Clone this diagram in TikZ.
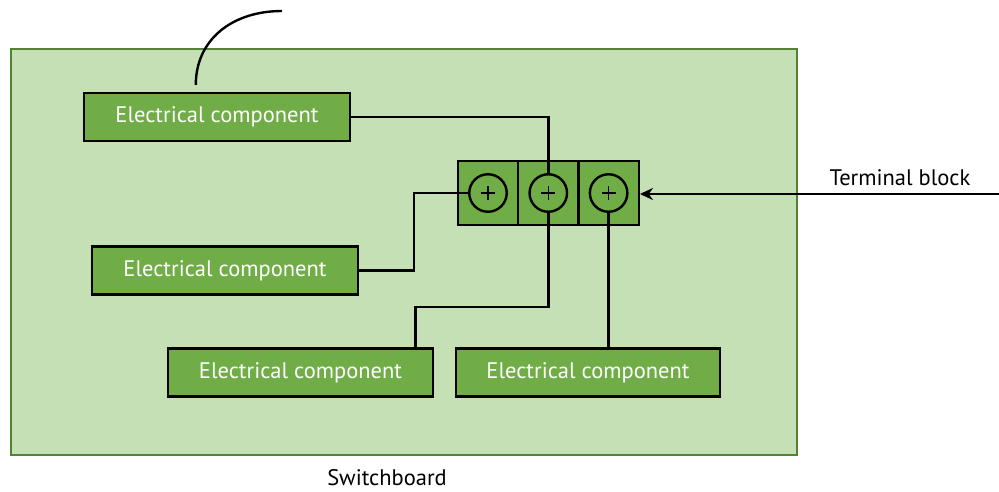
\documentclass[tikz,border=0pt]{standalone}
\usepackage{fontspec}
\setmainfont{PT Sans}
\usetikzlibrary{arrows.meta,calc}
\definecolor{boardfill}{HTML}{C5E0B4}
\definecolor{boardline}{HTML}{548235}
\definecolor{compfill}{HTML}{70AD47}
\tikzset{
  comp/.style={draw=black,line width=2.4pt,fill=compfill,text=white,minimum height=48pt,inner sep=0pt,font=\fontsize{22.5pt}{26pt}\selectfont},
  cell/.style={draw=black,line width=2.4pt,fill=compfill,minimum width=60.3pt,minimum height=64pt,inner sep=0pt},
  term/.style={circle,draw=black,line width=2.4pt,minimum size=37.5pt,inner sep=0pt},
  plusline/.style={draw=black,line width=1.6pt},
  wire/.style={draw=black,line width=2.4pt},
  lbl/.style={font=\fontsize{22.5pt}{26pt}\selectfont,text=black,inner sep=0pt}
}
\begin{document}
\begin{tikzpicture}[x=1pt,y=-1pt]
\useasboundingbox (0,0) rectangle (999,491);
\node[draw=boardline,line width=2.4pt,fill=boardfill,minimum width=786pt,minimum height=406pt,inner sep=0pt] (board) at (404,252) {};
\node[comp,minimum width=266pt] (c1) at (217,117) {Electrical component};
\node[comp,minimum width=266pt] (c2) at (225,270.5) {Electrical component};
\node[comp,minimum width=265pt] (c3) at (300.5,372.5) {Electrical component};
\node[comp,minimum width=264pt] (c4) at (588,372.5) {Electrical component};
\node[cell] (k1) at (488,193) {};
\node[cell] (k2) at (548.3,193) {};
\node[cell] (k3) at (608.6,193) {};
\node[term] (t1) at (488,193) {};
\node[term] (t2) at (548.3,193) {};
\node[term] (t3) at (608.6,193) {};
\foreach \t in {t1,t2,t3}{
  \draw[plusline] ($(\t.center)+(-7,0)$) -- ($(\t.center)+(7,0)$);
  \draw[plusline] ($(\t.center)+(0,-7)$) -- ($(\t.center)+(0,7)$);
}
\coordinate (curveend) at (282,11);
\coordinate (arrowstart) at (999,194);
% wires
\draw[wire] (c1.east) -| (t2.north);
\draw[wire] (c2.east) -- ++(55,0) |- (t1.west);
\draw[wire] (t2.south) -- ($(t2.south)+(0,94)$) -| ($(c3.north)+(115,0)$);
\draw[wire] (t3.south) -- (t3.south |- c4.north);
\draw[line width=2.4pt] ($(c1.north west)+(113,-7)$) .. controls ++(0,-45) and ++(-50,0) .. (curveend);
\draw[line width=2.4pt,-{Stealth[length=13pt,width=12pt]}] (arrowstart) -- (k3.east |- arrowstart);
\node[lbl] (tlabel) at (900,178) {Terminal block};
\node[lbl] (slabel) at (387,478) {Switchboard};
\end{tikzpicture}
\end{document}
